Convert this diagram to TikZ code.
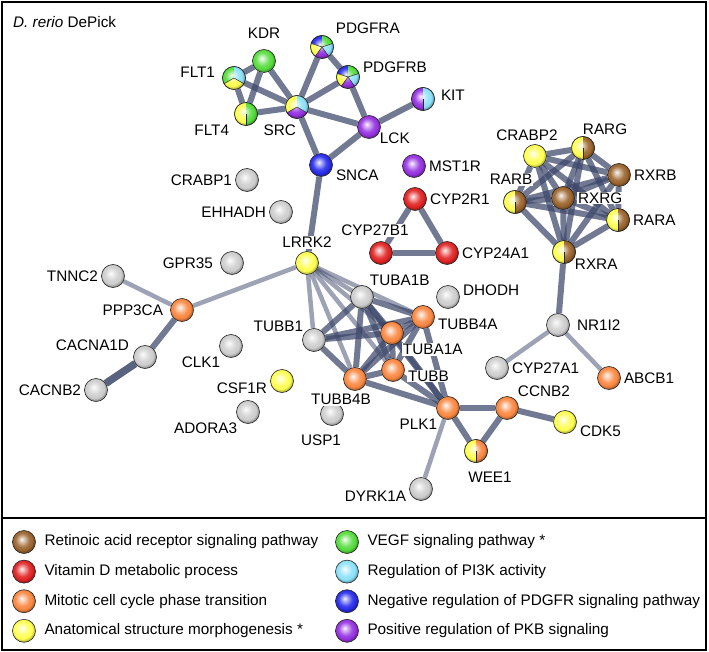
\documentclass[tikz,border=0pt]{standalone}
\usepackage{fontspec}
\setmainfont{Liberation Sans}
\usetikzlibrary{backgrounds}

% term colours
\definecolor{rar}{RGB}{155,100,45}
\definecolor{vitd}{RGB}{225,35,35}
\definecolor{mito}{RGB}{250,135,65}
\definecolor{anat}{RGB}{255,255,80}
\definecolor{vegf}{RGB}{85,220,60}
\definecolor{pik}{RGB}{140,225,250}
\definecolor{pdgfr}{RGB}{40,45,235}
\definecolor{pkb}{RGB}{150,50,225}
\definecolor{nogo}{RGB}{205,205,205}
\definecolor{edgec}{RGB}{60,70,105}
\colorlet{gball}{nogo}

\pgfdeclareradialshading[gball]{gshade}{\pgfqpoint{-5bp}{6bp}}{%
  color(0bp)=(gball!5!white); color(5bp)=(gball!35!white);
  color(15bp)=(gball!90!white); color(21bp)=(gball);
  color(25bp)=(gball!75!black); color(50bp)=(gball!75!black)}

\tikzset{
  bc/.style={shade, shading=gshade, /utils/exec={\colorlet{gball}{#1}}},
  gnode/.style={circle, draw=black!85, line width=0.6pt, minimum size=23pt, inner sep=0pt},
  sep/.style={draw=black!85, line width=0.5pt},
  lnk/.style={draw=edgec, draw opacity=0.72, line width=6pt},
  lnkw/.style={draw=edgec, draw opacity=0.5, line width=4.5pt},
  lnks/.style={draw=edgec, draw opacity=0.85, line width=7.5pt},
}

% split ball for genes in several terms
\newcommand{\piefill}[2]{%
  \foreach \col/\sa/\sb in {#2} {
    \begin{scope}
      \clip (#1.center) -- ++(\sa:11.5) arc[start angle=\sa, end angle=\sb, radius=11.5] -- cycle;
      \shade[bc=\col] (#1.center) circle[radius=11.5];
    \end{scope}
    \draw[sep] (#1.center) -- ++(\sa:11.5);
  }
  \draw[sep, line width=0.6pt] (#1.center) circle[radius=11.5];
}

\begin{document}
\begin{tikzpicture}
  [x=1pt, y=1pt, font=\fontsize{15.3}{18}\selectfont, label distance=2pt,
   every label/.style={font=\fontsize{15.3}{18}\selectfont, inner sep=1pt, fill=white}]
  \useasboundingbox (0,0) rectangle (709,-652);

  \node (title) [anchor=west, inner sep=0pt] at (13,-22) {\textit{D. rerio} DePick};

  % top cluster
  \node (kdr) [gnode, bc=vegf, label={[yshift=7pt]above:KDR}] at (264,-61) {};
  \node (flt1) [gnode, label={[xshift=-4pt,yshift=6pt]left:FLT1}] at (234,-78) {};
  \node (flt4) [gnode, label={[xshift=-6pt]below left:FLT4}] at (246,-114) {};
  \node (src) [gnode, label={[xshift=10pt,yshift=-7pt]below left:SRC}] at (297,-107) {};
  \node (pdgfra) [gnode, label={[xshift=3pt,yshift=2pt]above right:PDGFRA}] at (322,-47) {};
  \node (pdgfrb) [gnode, label={[yshift=10pt]right:PDGFRB}] at (348,-77) {};
  \node (kit) [gnode, label={[xshift=3pt,yshift=4pt]right:KIT}] at (423,-99) {};
  \node (lck) [gnode, bc=pkb, label={[yshift=5pt]below right:LCK}] at (369,-127) {};
  \node (snca) [gnode, bc=pdgfr, label={[yshift=-10pt]right:SNCA}] at (321,-165) {};
  \node (crabp1) [gnode, bc=nogo, label=left:CRABP1] at (247,-180) {};
  \node (ehhadh) [gnode, bc=nogo, label=left:EHHADH] at (281,-212) {};
  \node (mst1r) [gnode, bc=pkb, label=right:MST1R] at (414,-166) {};

  % vitamin D
  \node (cyp2r1) [gnode, bc=vitd, label=right:CYP2R1] at (415,-199) {};
  \node (cyp27b1) [gnode, bc=vitd, label={[xshift=-6pt,yshift=2pt]above:CYP27B1}] at (381,-253) {};
  \node (cyp24a1) [gnode, bc=vitd, label=right:CYP24A1] at (447,-253) {};

  % retinoic acid receptors
  \node (crabp2) [gnode, bc=anat, label={[xshift=-8pt]above:CRABP2}] at (535,-156) {};
  \node (rarg) [gnode, label={[xshift=-11pt,yshift=2pt]above right:RARG}] at (583,-148) {};
  \node (rxrb) [gnode, bc=rar, label=right:RXRB] at (619,-175) {};
  \node (rarb) [gnode, label={[xshift=-4pt,yshift=2pt]above:RARB}] at (515,-202) {};
  \node (rxrg) [gnode, bc=rar, label=right:RXRG] at (563,-198) {};
  \node (rara) [gnode, label=right:RARA] at (618,-220) {};
  \node (rxra) [gnode, label={[yshift=4pt]below right:RXRA}] at (564,-252) {};
  \node (nr1i2) [gnode, bc=nogo, label={[xshift=4pt]right:NR1I2}] at (558,-325) {};
  \node (cyp27a1) [gnode, bc=nogo, label=right:CYP27A1] at (497,-368) {};
  \node (abcb1) [gnode, bc=mito, label=right:ABCB1] at (609,-378) {};

  % left part
  \node (lrrk2) [gnode, bc=anat, label=above:LRRK2] at (307,-263) {};
  \node (gpr35) [gnode, bc=nogo, label={[xshift=-4pt]left:GPR35}] at (232,-263) {};
  \node (tnnc2) [gnode, bc=nogo, label=left:TNNC2] at (113,-276) {};
  \node (ppp3ca) [gnode, bc=mito, label={[xshift=-4pt]left:PPP3CA}] at (182,-310) {};
  \node (cacna1d) [gnode, bc=nogo, label={[xshift=-5pt,yshift=-5pt]above left:CACNA1D}] at (145,-357) {};
  \node (cacnb2) [gnode, bc=nogo, label=left:CACNB2] at (96,-390) {};
  \node (clk1) [gnode, bc=nogo, label=below left:CLK1] at (231,-346) {};
  \node (csf1r) [gnode, bc=anat, label={[yshift=-7pt]left:CSF1R}] at (282,-381) {};
  \node (adora3) [gnode, bc=nogo, label=below left:ADORA3] at (248,-412) {};
  \node (usp1) [gnode, bc=nogo, label={[xshift=-11pt,yshift=-6pt]below:USP1}] at (332,-414) {};

  % tubulins and cell cycle
  \node (tuba1b) [gnode, bc=nogo, label={[xshift=-3pt]above right:TUBA1B}] at (362,-297) {};
  \node (dhodh) [gnode, bc=nogo, label={[yshift=7pt]right:DHODH}] at (448,-297) {};
  \node (tubb4a) [gnode, bc=mito, label={[yshift=-7pt]right:TUBB4A}] at (423,-317) {};
  \node (tubb1) [gnode, bc=nogo, label={[yshift=-3pt]above left:TUBB1}] at (314,-340) {};
  \node (tuba1a) [gnode, bc=mito, label=below right:TUBA1A] at (392,-333) {};
  \node (tubb) [gnode, bc=mito, label={[yshift=-6pt]right:TUBB}] at (393,-370) {};
  \node (tubb4b) [gnode, bc=mito, label={[xshift=-14pt]below:TUBB4B}] at (355,-379) {};
  \node (plk1) [gnode, bc=mito, label=below left:PLK1] at (448,-408) {};
  \node (ccnb2) [gnode, bc=mito, label=above right:CCNB2] at (507,-408) {};
  \node (cdk5) [gnode, bc=anat, label={[yshift=-9pt]right:CDK5}] at (565,-422) {};
  \node (wee1) [gnode, label={[xshift=14pt,yshift=-6pt]below:WEE1}] at (476,-451) {};
  \node (dyrk1a) [gnode, bc=nogo, label={[yshift=-7pt]left:DYRK1A}] at (421,-489) {};

  % split balls
  \piefill{flt1}{vegf/90/210, anat/210/330, pik/330/450}
  \piefill{flt4}{anat/90/270, vegf/270/450}
  \piefill{src}{anat/90/210, pkb/210/330, pik/330/450}
  \piefill{pdgfra}{pdgfr/90/162, anat/162/234, pkb/234/306, pik/306/378, vegf/378/450}
  \piefill{pdgfrb}{pdgfr/90/162, anat/162/234, pkb/234/306, pik/306/378, vegf/378/450}
  \piefill{kit}{pkb/90/270, pik/270/450}
  \foreach \g in {rarg, rarb, rara, rxra}
    {\piefill{\g}{anat/90/270, rar/270/450}}
  \piefill{wee1}{anat/90/270, mito/270/450}

  % interactions
  \begin{scope}[on background layer]
    \foreach \p/\q in {flt1/kdr, flt1/flt4, flt1/src, kdr/flt4, kdr/src, flt4/src,
        src/pdgfra, src/pdgfrb, src/lck, src/snca, pdgfra/pdgfrb, pdgfrb/lck,
        lck/kit, lck/snca, snca/lrrk2, cyp2r1/cyp27b1, cyp2r1/cyp24a1,
        cyp27b1/cyp24a1, rxra/nr1i2, ppp3ca/cacna1d, plk1/ccnb2, plk1/wee1,
        ccnb2/wee1, ccnb2/cdk5}
      \draw[lnk] (\p) -- (\q);
    \foreach \p/\q in {lrrk2/ppp3ca, tnnc2/ppp3ca, nr1i2/cyp27a1, nr1i2/abcb1, plk1/dyrk1a}
      \draw[lnkw] (\p) -- (\q);
    \draw[lnks] (cacna1d) -- (cacnb2);
    \foreach \p [count=\i] in {crabp2, rarg, rxrb, rarb, rxrg, rara, rxra}
      \foreach \q [count=\j] in {crabp2, rarg, rxrb, rarb, rxrg, rara, rxra}
        {\ifnum\j>\i \draw[lnk] (\p) -- (\q); \fi}
    \foreach \p [count=\i] in {tuba1b, tubb4a, tuba1a, tubb, tubb4b}
      \foreach \q [count=\j] in {tuba1b, tubb4a, tuba1a, tubb, tubb4b}
        {\ifnum\j>\i \draw[lnk] (\p) -- (\q); \fi}
    \foreach \q in {tuba1b, tubb4a, tuba1a, tubb4b}
      \draw[lnk] (tubb1) -- (\q);
    \foreach \q in {tuba1b, tubb1, tubb4a, tuba1a, tubb, tubb4b}
      \draw[lnkw] (lrrk2) -- (\q);
    \foreach \q in {tuba1b, tubb4a, tuba1a, tubb, tubb4b}
      \draw[lnk] (plk1) -- (\q);
  \end{scope}

  % legend
  \foreach \col/\txt [count=\i] in {rar/Retinoic acid receptor signaling pathway,
      vitd/Vitamin D metabolic process, mito/Mitotic cell cycle phase transition,
      anat/Anatomical structure morphogenesis *}
    \node (legl\i) [gnode, bc=\col, label={[label distance=7.5pt]right:\txt}] at (24,{-542-29.6*(\i-1)}) {};
  \foreach \col/\txt [count=\i] in {vegf/VEGF signaling pathway *,
      pik/Regulation of PI3K activity, pdgfr/Negative regulation of PDGFR signaling pathway,
      pkb/Positive regulation of PKB signaling}
    \node (legr\i) [gnode, bc=\col, label={[label distance=7.5pt]right:\txt}] at (347,{-542-29.6*(\i-1)}) {};

  % frame
  \draw[line width=2pt] (2,-2) rectangle (706,-650);
  \draw[line width=2pt] (2,-518) -- (706,-518);
\end{tikzpicture}
\end{document}
